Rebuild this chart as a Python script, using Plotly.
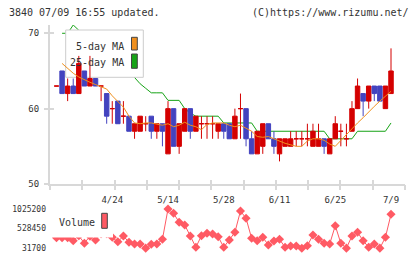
import plotly.graph_objects as go

# ---------------- data ----------------
tick_labels = ["4/24", "5/14", "5/28", "6/11", "6/25", "7/9"]
tick_index = [10, 20, 30, 40, 50, 60]
price_ticks = [50, 60, 70]
volume_ticks = [31700, 528450, 1025200]

opens = [63, 65, 62, 63, 62, 65, 63, 64, 63, 62,
         60, 61, 59, 59, 57, 57, 58, 59, 57, 58,
         54, 60, 55, 57, 60, 57, 58, 58, 58, 57,
         58, 58, 56, 60, 60, 56, 54, 55, 58, 56,
         54, 55, 55, 56, 56, 56, 55, 55, 56, 54,
         56, 57, 56, 57, 60, 62, 61, 63, 63, 60,
         62]
highs = [63, 65, 64, 64, 67, 65, 67, 64, 63, 62,
         61, 61, 61, 59, 58, 59, 59, 59, 58, 58,
         61, 60, 58, 60, 60, 59, 59, 59, 59, 58,
         58, 58, 60, 62, 60, 57, 57, 58, 58, 57,
         56, 56, 57, 57, 57, 58, 58, 58, 56, 56,
         59, 58, 58, 61, 64, 62, 63, 63, 63, 63,
         68]
lows = [63, 62, 61, 62, 62, 63, 63, 63, 61, 58,
        58, 58, 58, 57, 56, 57, 57, 56, 56, 55,
        54, 55, 54, 57, 56, 57, 56, 56, 56, 56,
        56, 56, 56, 56, 55, 54, 54, 54, 56, 54,
        53, 55, 55, 55, 55, 55, 55, 55, 54, 54,
        56, 55, 55, 57, 60, 59, 60, 61, 61, 60,
        62]
closes = [63, 62, 63, 62, 66, 63, 64, 63, 63, 59,
          60, 58, 59, 57, 58, 59, 58, 57, 58, 57,
          60, 55, 58, 60, 57, 59, 58, 58, 58, 58,
          57, 56, 59, 60, 56, 54, 57, 58, 56, 55,
          56, 56, 56, 56, 56, 56, 57, 56, 55, 56,
          58, 57, 56, 60, 63, 61, 63, 62, 61, 63,
          65]

ma5 = [None, 66.0, 65.3, 64.7, 64.2, 63.8, 63.5, 63.2, 62.9, 62.6,
       61.7, 60.9, 60.2, 59.0, 58.1, 58.0, 58.1, 58.1, 58.0, 57.8,
       58.0, 57.6, 57.8, 58.2, 57.8, 57.6, 57.2, 57.9, 58.1, 58.1,
       58.1, 57.8, 57.6, 57.8, 57.4, 57.0, 56.3, 56.2, 56.3, 56.0,
       55.6, 55.4, 55.2, 55.0, 55.0, 55.7, 56.0, 56.0, 55.8, 55.3,
       55.0, 55.8, 56.6, 57.3, 58.1, 58.8, 59.6, 60.3, 61.0, 61.6,
       62.3]
ma25 = [None, 70.0, 70.0, 71.1, 70.4, 70.0, 69.5, 69.0, 68.4, 67.8,
        67.2, 66.5, 65.8, 65.0, 64.1, 63.3, 62.7, 62.1, 62.1, 62.1,
        61.1, 61.1, 61.1, 60.0, 59.4, 59.0, 59.0, 59.0, 59.0, 59.0,
        58.1, 58.1, 58.1, 58.1, 58.1, 58.1, 57.0, 57.0, 57.0, 57.0,
        57.0, 57.0, 57.0, 57.0, 57.0, 57.0, 57.0, 57.0, 57.0, 56.0,
        56.0, 56.0, 56.0, 56.0, 57.0, 57.0, 57.0, 57.0, 57.0, 57.0,
        58.1]
volume = [300000, 300000, 300000, 224000, 350000, 158000, 340000, 241000, 400000, 400000,
          310000, 198000, 343000, 183000, 140000, 140000, 35000, 133000, 140000, 259000,
          1025200, 916000, 689000, 621000, 343000, 57000, 350000, 411000, 393000, 325000,
          57000, 241000, 436000, 975000, 790000, 284000, 224000, 310000, 115000, 216000,
          259000, 57000, 90000, 90000, 31700, 97000, 368000, 259000, 158000, 140000,
          603000, 158000, 35000, 343000, 436000, 224000, 57000, 140000, 35000, 310000,
          891000]

n = len(closes)
idx = list(range(n))

# ---------------- styling ----------------
RED = "#d40000"
BLUE = "#4343bf"
ORANGE = "#f0901e"
GREEN = "#16a316"
VOL = "#ff5a64"
AX = "#d8d8d8"
TXT = "#333333"
FONT = "DejaVu Sans Mono"

W, H = 420, 259
ML, MR, MT, MB = 50, 15, 25, 9
PW, PH = W - ML - MR, H - MT - MB


def px_x(p):
    return (p - ML) / PW


def px_y(p):
    return (H - MB - p) / PH


X0, X1 = -1.166, 62.51
Y0, Y1 = 50, 71.1
V0, V1 = -11276, 1126320

fig = go.Figure()

# 25-day MA (under the legend box)
fig.add_trace(go.Scatter(x=idx, y=ma25, mode="lines",
                         line=dict(color=GREEN, width=1),
                         hoverinfo="skip", xaxis="x", yaxis="y"))

# legend box (in a 0..1 overlay so it sits between MA25 and candles)
main_bottom = 184
main_top = MT


def fy(p):
    return (main_bottom - p) / (main_bottom - main_top)


bx0, bx1 = px_x(65.7), px_x(143.3)
by0, by1 = fy(77.3), fy(30)
fig.add_trace(go.Scatter(x=[bx0, bx1, bx1, bx0, bx0], y=[by0, by0, by1, by1, by0],
                         mode="lines", fill="toself", fillcolor="white",
                         line=dict(color="#cccccc", width=1),
                         hoverinfo="skip", xaxis="x3", yaxis="y3"))


def candles(sel, color):
    return go.Candlestick(
        x=[i for i in sel],
        open=[opens[i] for i in sel], high=[highs[i] for i in sel],
        low=[lows[i] for i in sel], close=[closes[i] for i in sel],
        increasing=dict(line=dict(color=color, width=1), fillcolor=color),
        decreasing=dict(line=dict(color=color, width=1), fillcolor=color),
        whiskerwidth=0, hoverinfo="skip", xaxis="x4", yaxis="y4")


up = [i for i in idx if closes[i] >= opens[i]]
dn = [i for i in idx if closes[i] < opens[i]]
fig.add_trace(candles(up, RED))
fig.add_trace(candles(dn, BLUE))

fig.add_trace(go.Scatter(x=idx, y=ma5, mode="lines",
                         line=dict(color=ORANGE, width=1),
                         hoverinfo="skip", xaxis="x4", yaxis="y4"))

# volume
fig.add_trace(go.Scatter(x=idx, y=volume, mode="lines+markers",
                         line=dict(color=VOL, width=1),
                         marker=dict(symbol="diamond", size=7, color=VOL),
                         cliponaxis=False, hoverinfo="skip",
                         xaxis="x2", yaxis="y2"))

axis_common = dict(showgrid=False, zeroline=False, automargin=False)

fig.update_layout(
    width=W, height=H, margin=dict(l=ML, r=MR, t=MT, b=MB, autoexpand=False),
    paper_bgcolor="white", plot_bgcolor="white", showlegend=False,
    boxgap=0.2, boxgroupgap=0,
    font=dict(family=FONT, size=9, color=TXT),
    xaxis=dict(domain=[0, 1], range=[X0, X1], anchor="y",
               tickmode="array", tickvals=tick_index, ticktext=tick_labels,
               ticks="", showline=True, linecolor=AX, linewidth=2,
               ticklabelstandoff=6, tickfont=dict(size=9, color=TXT),
               rangeslider=dict(visible=False), **axis_common),
    yaxis=dict(domain=[px_y(main_bottom), 1], range=[Y0, Y1], anchor="x",
               tickmode="array", tickvals=price_ticks,
               ticktext=[str(v) for v in price_ticks],
               ticks="outside", ticklen=4, tickwidth=2, tickcolor=AX,
               showline=True, linecolor=AX, linewidth=2,
               ticklabelstandoff=3, tickfont=dict(size=9, color=TXT),
               **axis_common),
    xaxis2=dict(domain=[0, 1], range=[X0, X1], anchor="y2", visible=False,
                rangeslider=dict(visible=False), automargin=False),
    yaxis2=dict(domain=[0, px_y(205)], range=[V0, V1], anchor="x2",
                tickmode="array", tickvals=volume_ticks,
                ticktext=[str(v) for v in volume_ticks],
                ticks="", showline=False, ticklabelstandoff=3,
                tickfont=dict(size=8, color=TXT), **axis_common),
    xaxis3=dict(overlaying="x", anchor="y", range=[0, 1],
                tickmode="array", tickvals=[k / 11 for k in range(12)],
                ticks="outside", ticklen=5, tickwidth=2, tickcolor=AX,
                showticklabels=False, showline=False,
                rangeslider=dict(visible=False), **axis_common),
    yaxis3=dict(overlaying="y", anchor="x", range=[0, 1], visible=False,
                automargin=False),
    xaxis4=dict(overlaying="x", anchor="y", range=[X0, X1],
                tickmode="linear", tick0=X0, dtick=(X1 - X0) / 11,
                ticks="inside", ticklen=4, tickwidth=2, tickcolor=AX,
                showticklabels=False, showline=False,
                rangeslider=dict(visible=False), **axis_common),
    yaxis4=dict(overlaying="y", anchor="x", range=[Y0, Y1],
                tickmode="array", tickvals=price_ticks,
                ticks="inside", ticklen=4, tickwidth=2, tickcolor=AX,
                showticklabels=False, showline=False, **axis_common),
)

annotations = [
    dict(text="3840 07/09 16:55 updated.", x=px_x(7), y=px_y(12.7),
         xanchor="left", yanchor="middle", font=dict(size=10)),
    dict(text="(C)https://www.rizumu.net/", x=px_x(411), y=px_y(12.7),
         xanchor="right", yanchor="middle", font=dict(size=10)),
    dict(text="5-day MA", x=px_x(126), y=px_y(46),
         xanchor="right", yanchor="middle", font=dict(size=10)),
    dict(text="25-day MA", x=px_x(126), y=px_y(62.7),
         xanchor="right", yanchor="middle", font=dict(size=10)),
    dict(text="Volume", x=px_x(57), y=px_y(222.5),
         xanchor="left", yanchor="middle", font=dict(size=10)),
]
for a in annotations:
    a.update(xref="paper", yref="paper", showarrow=False)
    a["font"].update(family=FONT, color=TXT)
fig.update_layout(annotations=annotations)

shapes = [
    # volume legend background
    dict(type="rect", x0=px_x(52), x1=px_x(113), y0=px_y(237.5), y1=px_y(206),
         fillcolor="white", line=dict(width=0), layer="above"),
    dict(type="rect", x0=px_x(101.7), x1=px_x(107.3), y0=px_y(228.3), y1=px_y(213.3),
         fillcolor=VOL, line=dict(color="#444444", width=1), layer="above"),
    dict(type="rect", x0=px_x(131.5), x1=px_x(137.3), y0=px_y(50), y1=px_y(37.3),
         fillcolor=ORANGE, line=dict(color="#444444", width=1), layer="above"),
    dict(type="rect", x0=px_x(131.5), x1=px_x(137.3), y0=px_y(68.3), y1=px_y(54),
         fillcolor=GREEN, line=dict(color="#444444", width=1), layer="above"),
]
for s in shapes:
    s.update(xref="paper", yref="paper")
fig.update_layout(shapes=shapes)

fig.write_html("out.html")
